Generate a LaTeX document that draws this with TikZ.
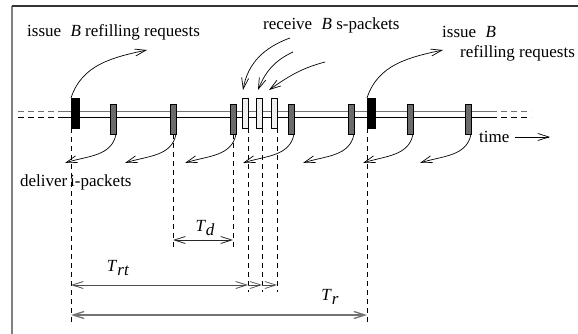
\documentclass[tikz,border=0pt]{standalone}
\usepackage{fontspec}
\setmainfont{Liberation Serif}
\usetikzlibrary{arrows.meta}
\begin{document}
\begin{tikzpicture}[x=1pt,y=1pt,
  font=\fontsize{17}{20}\selectfont,
  bar/.style={draw=black, line width=0.6pt, inner sep=0pt, outer sep=0pt, minimum width=6pt, minimum height=30pt},
  blackbar/.style={bar, fill=black, minimum width=8pt},
  graybar/.style={bar, fill=black!58},
  lightbar/.style={bar, fill=black!6},
  tip/.style={line width=0.7pt, -{Straight Barb[length=11pt,width=7pt]}},
  dtip/.style={line width=0.8pt, {Straight Barb[length=11pt,width=7pt]}-{Straight Barb[length=11pt,width=7pt]}},
  vdash/.style={line width=0.8pt, dash pattern=on 5pt off 4pt},
  lbl/.style={inner sep=0pt, anchor=center}
]
\useasboundingbox (0,0) rectangle (578,-334);
% frame
\draw[black!50, line width=1.2pt] (12,-334) -- (12,-6);
\draw[black!80, line width=1.2pt] (12,-6) -- (578,-6);
% timeline
\coordinate (lt) at (18,-112); \coordinate (ls) at (63,-112);
\coordinate (re) at (491,-112); \coordinate (rt) at (531,-112);
\draw[black!55, line width=1pt] (ls) -- (re);
\draw[black, line width=1pt] (ls |- 0,-118) -- (re |- 0,-118);
\draw[black!55, line width=1pt, dash pattern=on 6pt off 4pt] (lt) -- (ls);
\draw[black, line width=1pt, dash pattern=on 6pt off 4pt] (lt |- 0,-118) -- (ls |- 0,-118);
\draw[black!55, line width=1pt, dash pattern=on 6pt off 4pt] (re) -- (rt);
\draw[black, line width=1pt, dash pattern=on 6pt off 4pt] (re |- 0,-118) -- (rt |- 0,-118);
% bars
\node[blackbar] (b1) at (75,-113) {};
\node[graybar] (g2) at (113,-119) {};
\node[graybar] (g3) at (173,-119) {};
\node[graybar] (g4) at (233,-119) {};
\node[lightbar] (l1) at (245,-113) {};
\node[lightbar] (l2) at (259,-113) {};
\node[lightbar] (l3) at (274,-113) {};
\node[graybar] (g5) at (291,-119) {};
\node[graybar] (g6) at (351,-119) {};
\node[blackbar] (b2) at (371,-113) {};
\node[graybar] (g7) at (410,-119) {};
\node[graybar] (g8) at (468,-119) {};
% texts
\node[lbl, anchor=west] (iss1) at (27,-32) {issue\hspace{0.55em}\textit{B} refilling requests};
\node[lbl, anchor=west] (rcv) at (263,-25) {receive\hspace{0.55em}\textit{B} s-packets};
\node[lbl, anchor=west] (iss2) at (442,-32) {issue\hspace{0.55em}\textit{B}};
\node[lbl, anchor=west] (refr) at (460,-53) {refilling requests};
\node[lbl, anchor=west] (time) at (479,-137) {time};
\node[lbl, anchor=west] (dlv) at (20,-182) {deliver\,i-packets};
% upward request arrows
\coordinate (q1) at (147,-50);
\coordinate (q2) at (443,-50);
\draw[tip] (b1.north west) to[out=72,in=192] (q1);
\draw[tip] (b2.north west) to[out=72,in=192] (q2);
% receive arrows
\coordinate (r1s) at (290,-38); \coordinate (r1) at (243,-90);
\coordinate (r2s) at (293,-52); \coordinate (r2) at (258,-90);
\coordinate (r3s) at (325,-62); \coordinate (r3) at (269,-90);
\draw[tip] (r1s) to[out=200,in=80] (r1);
\draw[tip] (r2s) to[out=205,in=68] (r2);
\draw[tip] (r3s) to[out=195,in=35] (r3);
% deliver arrows
\foreach \g/\t in {g2/65,g3/125,g4/185,g5/243,g6/303,g7/363,g8/420}{
  \coordinate (d\g) at (\t,-163);
  \draw[tip] (\g.south east) to[out=-100,in=18] (d\g);
}
% time arrow
\coordinate (tend) at (550,-137);
\draw[tip] ([xshift=5pt]time.east) -- (tend);
% dashed verticals
\coordinate (v1) at (b1.south west |- 0,-323);
\coordinate (v3) at (g3.south |- 0,-247);
\coordinate (v4) at (g4.south |- 0,-247);
\coordinate (vl1) at (l1.south east |- 0,-292);
\coordinate (vl2) at (l2.south east |- 0,-292);
\coordinate (vl3) at (l3.south east |- 0,-292);
\coordinate (v2) at (b2.south west |- 0,-323);
\draw[vdash] (b1.south west) -- (v1);
\draw[vdash] (g3.south) -- (v3);
\draw[vdash] (g4.south) -- (v4);
\draw[vdash] (l1.south east) -- (vl1);
\draw[vdash] (l2.south east) -- (vl2);
\draw[vdash] (l3.south east) -- (vl3);
\draw[vdash] (b2.south west) -- (v2);
% dimensions
\coordinate (td1) at (v3 |- 0,-240); \coordinate (td2) at (v4 |- 0,-240);
\draw[dtip, black!85] (td1) -- (td2);
\node[lbl] (Td) at (205,-228) {\textit{T}\raisebox{-0.5ex}{\textit{d}}};
\coordinate (tr1) at (v1 |- 0,-285); \coordinate (tr2) at (vl1 |- 0,-285);
\coordinate (tr3) at (vl2 |- 0,-285); \coordinate (tr4) at (vl3 |- 0,-285);
\draw[dtip, black!70] (tr1) -- (tr2);
\draw[tip, black!70] (tr2) -- (tr3);
\draw[tip, black!70] (tr3) -- (tr4);
\node[lbl] (Trt) at (118,-268) {\textit{T}\raisebox{-0.5ex}{\textit{rt}}};
\coordinate (rr1) at (v1 |- 0,-315); \coordinate (rr2) at (v2 |- 0,-315);
\draw[dtip, black!55, line width=1.3pt] (rr1) -- (rr2);
\node[lbl] (Tr) at (330,-297) {\textit{T}\raisebox{-0.5ex}{\textit{r}}};
\end{tikzpicture}
\end{document}
